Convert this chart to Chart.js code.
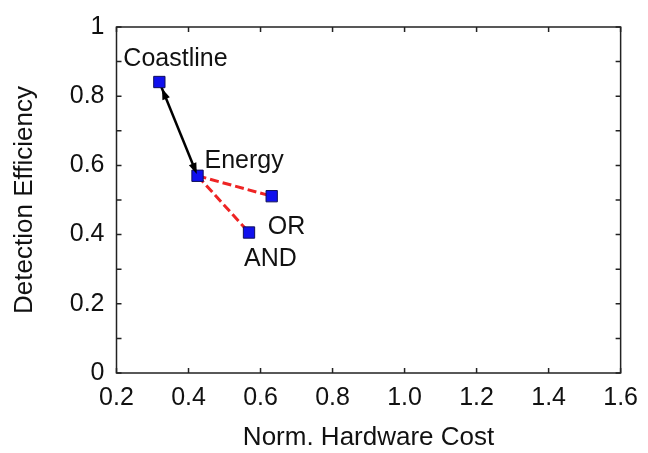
<!DOCTYPE html>
<html>
<head>
<meta charset="utf-8">
<script src="https://cdn.jsdelivr.net/npm/chart.js@4.4.1/dist/chart.umd.min.js"></script>
<style>
  html, body { margin: 0; padding: 0; background: #fff; }
  #wrap { width: 648px; height: 453px; position: relative; }
</style>
</head>
<body>
<div id="wrap"><canvas id="myChart"></canvas></div>
<script>
const designs = ["Coastline", "Energy", "OR", "AND"];
const hardwareCost = [0.319, 0.425, 0.631, 0.568];
const detectionEff = [0.841, 0.570, 0.511, 0.406];
const xTicks = [0.2, 0.4, 0.6, 0.8, 1.0, 1.2, 1.4, 1.6];
const xTickLabels = ["0.2", "0.4", "0.6", "0.8", "1.0", "1.2", "1.4", "1.6"];
const yTicks = [0, 0.2, 0.4, 0.6, 0.8, 1];
const yTickLabels = ["0", "0.2", "0.4", "0.6", "0.8", "1"];
// links between designs (index pairs)
const solidLinks = [[0, 1]];
const dashedLinks = [[1, 2], [1, 3]];

const FONT = "'Liberation Sans', Arial, sans-serif";
const pt = (i) => ({ x: hardwareCost[i], y: detectionEff[i] });

// label offsets from their marker, px
const labelOffset = { Coastline: [-36, -16], Energy: [7, -8], OR: [-4, 38], AND: [-5, 33] };

const framePlugin = {
  id: "frame",
  beforeDatasetsDraw(chart) {
    const { ctx, chartArea: a, scales: { x, y } } = chart;
    ctx.save();
    ctx.strokeStyle = "#222";
    ctx.lineWidth = 1.5;
    ctx.strokeRect(a.left, a.top, a.right - a.left, a.bottom - a.top);
    ctx.beginPath();
    const len = 5;
    xTicks.forEach((v) => {
      const px = x.getPixelForValue(v);
      ctx.moveTo(px, a.bottom); ctx.lineTo(px, a.bottom - len);
      ctx.moveTo(px, a.top); ctx.lineTo(px, a.top + len);
    });
    // major + minor ticks on y
    const yAll = [];
    yTicks.forEach((v, i) => {
      yAll.push(v);
      if (i < yTicks.length - 1) yAll.push((v + yTicks[i + 1]) / 2);
    });
    yAll.forEach((v) => {
      const py = y.getPixelForValue(v);
      ctx.moveTo(a.left, py); ctx.lineTo(a.left + len, py);
      ctx.moveTo(a.right, py); ctx.lineTo(a.right - len, py);
    });
    ctx.stroke();
    ctx.restore();
  },
};

function arrowHead(ctx, tipX, tipY, dx, dy) {
  const L = 11, W = 4;
  const bx = tipX - dx * L, by = tipY - dy * L;
  ctx.beginPath();
  ctx.moveTo(tipX, tipY);
  ctx.lineTo(bx - dy * W, by + dx * W);
  ctx.lineTo(bx + dy * W, by - dx * W);
  ctx.closePath();
  ctx.fill();
}

const annotatePlugin = {
  id: "annotate",
  afterDatasetsDraw(chart) {
    const { ctx, scales: { x, y } } = chart;
    ctx.save();
    ctx.fillStyle = "#000";
    solidLinks.forEach(([a, b]) => {
      const x0 = x.getPixelForValue(hardwareCost[a]), y0 = y.getPixelForValue(detectionEff[a]);
      const x1 = x.getPixelForValue(hardwareCost[b]), y1 = y.getPixelForValue(detectionEff[b]);
      const d = Math.hypot(x1 - x0, y1 - y0);
      const dx = (x1 - x0) / d, dy = (y1 - y0) / d;
      arrowHead(ctx, x1 - dx * 2, y1 - dy * 2, dx, dy);
      arrowHead(ctx, x0 + dx * 7, y0 + dy * 7, -dx, -dy);
    });
    ctx.fillStyle = "#111";
    ctx.font = "25px " + FONT;
    ctx.textAlign = "left";
    ctx.textBaseline = "alphabetic";
    designs.forEach((name, i) => {
      const px = x.getPixelForValue(hardwareCost[i]);
      const py = y.getPixelForValue(detectionEff[i]);
      const [ox, oy] = labelOffset[name];
      ctx.fillText(name, px + ox, py + oy);
    });
    ctx.restore();
  },
};

const datasets = [];
solidLinks.forEach(([a, b]) => datasets.push({
  data: [pt(a), pt(b)], showLine: true, borderColor: "#000", borderWidth: 2.5,
  pointRadius: 0, order: 2,
}));
dashedLinks.forEach(([a, b]) => datasets.push({
  data: [pt(a), pt(b)], showLine: true, borderColor: "#ee2424", borderWidth: 3,
  borderDash: [9, 4], pointRadius: 0, order: 2,
}));
datasets.push({
  data: designs.map((_, i) => pt(i)), showLine: false, pointStyle: "rect",
  pointRadius: 8, backgroundColor: "#1010ee", borderColor: "#10105a", borderWidth: 1, order: 1,
});

new Chart(document.getElementById("myChart"), {
  type: "scatter",
  data: { datasets },
  plugins: [framePlugin, annotatePlugin],
  options: {
    responsive: true,
    maintainAspectRatio: false,
    animation: false,
    layout: { padding: { top: 23, right: 11, left: 0, bottom: 0 } },
    plugins: { legend: { display: false }, tooltip: { enabled: false } },
    scales: {
      x: {
        type: "linear", min: 0.2, max: 1.6,
        afterBuildTicks: (s) => { s.ticks = xTicks.map((v) => ({ value: v })); },
        afterFit: (s) => { s.height = 80; },
        grid: { display: false, drawTicks: false },
        border: { display: false },
        ticks: { color: "#111", font: { size: 25, family: FONT }, padding: 10,
          maxRotation: 0, autoSkip: false, callback: (v, i) => xTickLabels[i] },
        title: { display: true, text: "Norm. Hardware Cost", color: "#111",
          font: { size: 26, family: FONT }, padding: { top: 0, bottom: 0 } },
      },
      y: {
        type: "linear", min: 0, max: 1,
        afterBuildTicks: (s) => { s.ticks = yTicks.map((v) => ({ value: v })); },
        afterFit: (s) => { s.width = 116.5; },
        grid: { display: false, drawTicks: false },
        border: { display: false },
        ticks: { color: "#111", font: { size: 25, family: FONT }, padding: 12,
          autoSkip: false, callback: (v, i) => yTickLabels[i] },
        title: { display: true, text: "Detection Efficiency", color: "#111",
          font: { size: 26, family: FONT }, padding: { top: 9, bottom: 0 } },
      },
    },
  },
});
</script>
</body>
</html>
